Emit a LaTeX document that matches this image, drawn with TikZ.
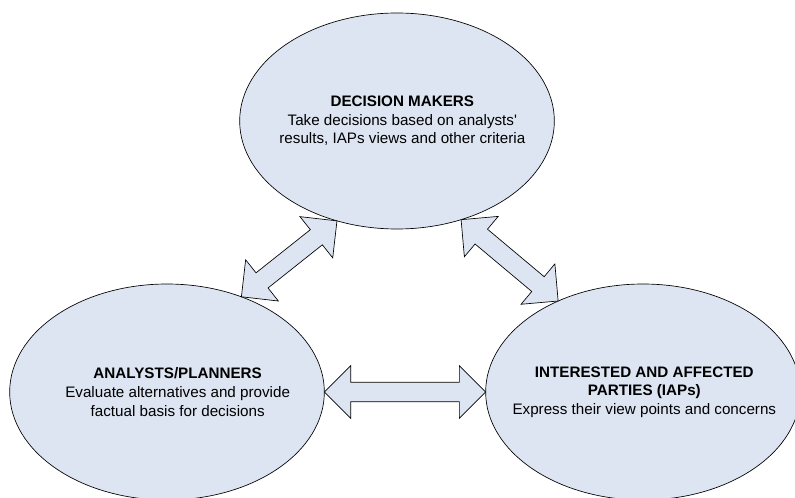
\documentclass[tikz,border=0pt]{standalone}
\usepackage{fontspec}
\setmainfont{Liberation Sans}
\usetikzlibrary{shapes.geometric,shapes.arrows,calc}
\definecolor{ovalfill}{RGB}{221,229,242}

% block double arrow laid between two border points
\newcommand{\twoway}[3]{%
  \path let \p1=($(#3)-(#2)$), \n1={atan2(\y1,\x1)}, \n2={veclen(\x1,\y1)} in
    node[link, minimum height=\n2, rotate=\n1] (#1) at ($(#2)!0.5!(#3)$) {};}

\begin{document}
\begin{tikzpicture}[x=0.75pt,y=-0.75pt,
  every node/.style={font=\fontsize{11.4}{14}\selectfont},
  party/.style={ellipse, draw=black, line width=0.5pt, fill=ovalfill,
    minimum width=236pt, minimum height=162pt, inner sep=0pt, outer sep=0pt},
  caption/.style={align=center, text=black, inner sep=0pt},
  link/.style={double arrow, draw=black, line width=0.5pt, fill=ovalfill,
    inner xsep=0pt, inner ysep=7pt, double arrow head extend=12.5pt, outer sep=0pt}
]
  \useasboundingbox (0,0) rectangle (795,498);

  % the three parties
  \node[party] (dm) at (397,121) {};
  \node[party] (ap) at (167,392) {};
  \node[party] (iap) at (643,392) {};

  \node[caption] (dmtext) at ([xshift=4pt]dm.center) {\textbf{DECISION MAKERS}\\Take decisions based on analysts\textquotesingle\\results, IAPs views and other criteria};
  \node[caption] (aptext) at ([xshift=8pt]ap.center) {\textbf{ANALYSTS/PLANNERS}\\Evaluate alternatives and provide\\factual basis for decisions};
  \node[caption] (iaptext) at ([xshift=1pt]iap.center) {\textbf{INTERESTED AND AFFECTED}\\\textbf{PARTIES (IAPs)}\\Express their view points and concerns};

  % two-way links
  \twoway{dmap}{dm.239.5}{ap.52.5}
  \twoway{dmiap}{dm.303.4}{iap.133}
  \twoway{apiap}{ap.east}{iap.west}
\end{tikzpicture}
\end{document}
